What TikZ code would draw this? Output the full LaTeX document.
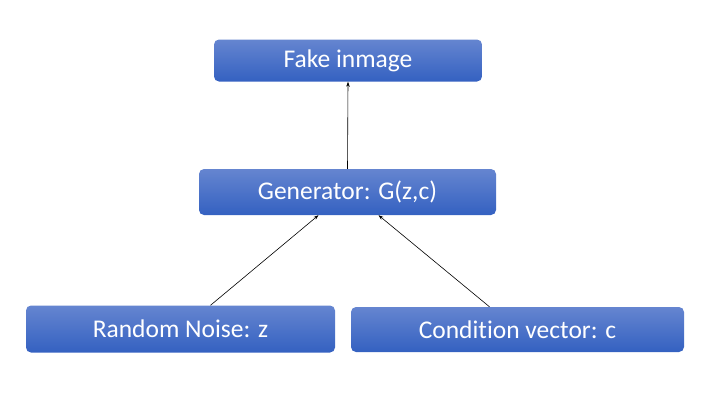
\documentclass[tikz,border=0pt]{standalone}
\usepackage{fontspec}
\setmainfont[Ligatures=NoCommon]{Carlito}
\usepackage{tikz}
\usetikzlibrary{positioning,arrows.meta}

\begin{document}
\begin{tikzpicture}
[
x=1pt, y=-1pt,
box-a/.style={rectangle, rounded corners=5pt, top color=boxtop, bottom color=boxbot,
              draw=none, text=white, inner sep=0pt,
              font=\fontsize{25.5}{30}\selectfont},
link-a/.style={-{Stealth[length=5pt,width=3.5pt]}, line width=0.6pt, black}
]
\definecolor{boxtop}{HTML}{6585D0}
\definecolor{boxbot}{HTML}{3461C1}
\useasboundingbox (0,0) rectangle (720,405);
\node (fake) [box-a, minimum width=268pt, minimum height=42pt] at (348,60.5)  {Fake inmage};
\node (gen)  [box-a, minimum width=297pt, minimum height=46pt] at (347.5,192) {Generator: G(z,c)};
\node (rnd)  [box-a, minimum width=309pt, minimum height=47pt] at (180.5,329) {Random Noise: z};
\node (cond) [box-a, minimum width=333pt, minimum height=45pt] at (517.5,329.5) {Condition vector: c};
\draw [link-a] (gen.north) -- (fake.south);
\draw [link-a] ([xshift=30pt]rnd.north)   -- ([xshift=-29pt]gen.south);
\draw [link-a] ([xshift=-28pt]cond.north) -- ([xshift=31pt]gen.south);
\end{tikzpicture}
\end{document}
